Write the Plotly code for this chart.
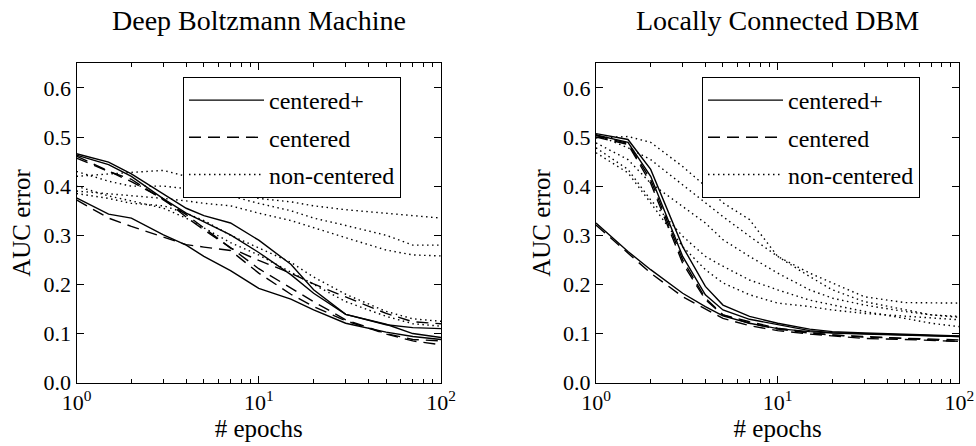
import plotly.graph_objects as go

# ---------------- data ----------------
epochs = [1, 1.5, 2, 3, 4, 5, 7, 10, 15, 20, 30, 50, 70, 100]

dbm_centered_plus = [
    [0.466, 0.449, 0.425, 0.383, 0.355, 0.340, 0.325, 0.290, 0.241, 0.189, 0.139, 0.118, 0.112, 0.110],
    [0.463, 0.444, 0.420, 0.374, 0.345, 0.327, 0.301, 0.265, 0.220, 0.182, 0.139, 0.119, 0.100, 0.092],
    [0.376, 0.343, 0.335, 0.301, 0.280, 0.257, 0.228, 0.192, 0.170, 0.148, 0.121, 0.103, 0.094, 0.088],
]
dbm_centered = [
    [0.461, 0.430, 0.409, 0.374, 0.337, 0.311, 0.275, 0.232, 0.192, 0.165, 0.128, 0.100, 0.088, 0.085],
    [0.457, 0.430, 0.414, 0.372, 0.342, 0.315, 0.274, 0.249, 0.223, 0.201, 0.174, 0.141, 0.124, 0.120],
    [0.372, 0.335, 0.318, 0.296, 0.281, 0.276, 0.269, 0.223, 0.180, 0.155, 0.126, 0.099, 0.085, 0.077],
]
dbm_non_centered = [
    [0.420, 0.425, 0.428, 0.432, 0.420, 0.405, 0.390, 0.375, 0.368, 0.360, 0.352, 0.345, 0.340, 0.335],
    [0.430, 0.410, 0.400, 0.400, 0.395, 0.390, 0.380, 0.365, 0.350, 0.335, 0.320, 0.300, 0.280, 0.280],
    [0.390, 0.385, 0.380, 0.375, 0.370, 0.365, 0.360, 0.345, 0.330, 0.315, 0.295, 0.270, 0.260, 0.258],
    [0.385, 0.375, 0.365, 0.360, 0.345, 0.330, 0.300, 0.275, 0.245, 0.215, 0.180, 0.145, 0.130, 0.125],
    [0.400, 0.380, 0.370, 0.355, 0.335, 0.315, 0.285, 0.260, 0.225, 0.200, 0.165, 0.135, 0.120, 0.115],
]

lcdbm_centered_plus = [
    [0.507, 0.495, 0.434, 0.277, 0.196, 0.158, 0.135, 0.121, 0.109, 0.104, 0.101, 0.099, 0.097, 0.095],
    [0.504, 0.489, 0.420, 0.257, 0.179, 0.148, 0.129, 0.118, 0.106, 0.102, 0.100, 0.097, 0.095, 0.094],
    [0.325, 0.267, 0.230, 0.182, 0.155, 0.136, 0.121, 0.110, 0.104, 0.101, 0.099, 0.097, 0.095, 0.094],
]
lcdbm_centered = [
    [0.503, 0.487, 0.413, 0.250, 0.172, 0.138, 0.124, 0.111, 0.102, 0.097, 0.094, 0.090, 0.087, 0.084],
    [0.321, 0.264, 0.223, 0.175, 0.150, 0.131, 0.116, 0.106, 0.099, 0.095, 0.090, 0.088, 0.086, 0.084],
    [0.500, 0.485, 0.406, 0.243, 0.169, 0.138, 0.121, 0.109, 0.101, 0.097, 0.093, 0.090, 0.088, 0.087],
]
lcdbm_non_centered = [
    [0.498, 0.501, 0.489, 0.440, 0.400, 0.366, 0.332, 0.257, 0.223, 0.203, 0.175, 0.163, 0.162, 0.162],
    [0.505, 0.478, 0.454, 0.403, 0.366, 0.338, 0.298, 0.257, 0.216, 0.189, 0.165, 0.148, 0.138, 0.135],
    [0.488, 0.454, 0.406, 0.359, 0.325, 0.291, 0.257, 0.223, 0.189, 0.172, 0.158, 0.145, 0.138, 0.133],
    [0.478, 0.434, 0.372, 0.298, 0.257, 0.237, 0.209, 0.189, 0.168, 0.158, 0.145, 0.131, 0.121, 0.114],
    [0.468, 0.427, 0.366, 0.277, 0.230, 0.203, 0.179, 0.162, 0.155, 0.148, 0.141, 0.135, 0.131, 0.128],
]

panel_titles = ["Deep Boltzmann Machine", "Locally Connected DBM"]
method_names = ["centered+", "centered", "non-centered"]
x_tick_vals = [1, 10, 100]
x_tick_text = ["10<sup>0</sup>", "10<sup>1</sup>", "10<sup>2</sup>"]
x_minor_vals = [2, 3, 4, 5, 6, 7, 8, 9, 20, 30, 40, 50, 60, 70, 80, 90]
y_tick_vals = [0.0, 0.1, 0.2, 0.3, 0.4, 0.5, 0.6]

# ---------------- styling ----------------
W, H = 976, 446
SERIF = "Liberation Serif"
LW = 1.4
dash_styles = ["solid", "12px,7px", "1.5px,3.5px"]

fig = go.Figure()

panels = [
    (dbm_centered_plus, dbm_centered, dbm_non_centered, "x", "y", "legend"),
    (lcdbm_centered_plus, lcdbm_centered, lcdbm_non_centered, "x2", "y2", "legend2"),
]
for cp, c, nc, xa, ya, lg in panels:
    for m, group in enumerate([cp, c, nc]):
        for k, vals in enumerate(group):
            fig.add_trace(go.Scatter(
                x=epochs, y=vals, mode="lines",
                line=dict(color="black", width=LW, dash=dash_styles[m]),
                name=method_names[m], legendgroup=lg + method_names[m],
                showlegend=(k == 0), legend=lg,
                xaxis=xa, yaxis=ya, hoverinfo="skip",
            ))

x_dom = [[76.5 / W, 441 / W], [596 / W, 959.3 / W]]
y_dom = [(H - 382.7) / H, (H - 63.3) / H]

axis_font = dict(family=SERIF, size=22, color="black")
title_font = dict(family=SERIF, size=25, color="black")

def xaxis(i):
    return dict(
        type="log", range=[0, 2], domain=x_dom[i], anchor="y" if i == 0 else "y2",
        automargin=False,
        showline=True, linecolor="black", linewidth=1.3, mirror="ticks",
        ticks="inside", ticklen=7, tickwidth=1, tickcolor="black",
        tickvals=x_tick_vals, ticktext=x_tick_text, tickfont=axis_font,
        minor=dict(ticks="inside", ticklen=3.5, tickwidth=1, tickcolor="black",
                   tickvals=x_minor_vals, showgrid=False),
        showgrid=False, zeroline=False,
        title=dict(text="# epochs", font=title_font, standoff=4),
    )

def yaxis(i):
    return dict(
        range=[0, 0.65], domain=y_dom, anchor="x" if i == 0 else "x2",
        automargin=False,
        showline=True, linecolor="black", linewidth=1.3, mirror="ticks",
        ticks="inside", ticklen=7, tickwidth=1, tickcolor="black",
        tickvals=y_tick_vals, tickformat=".1f", tickfont=axis_font,
        showgrid=False, zeroline=False,
        title=dict(text="AUC error", font=title_font, standoff=5),
    )

def legend(x0):
    return dict(
        x=x0 / W, y=1 - 77 / H, xanchor="left", yanchor="top",
        bgcolor="white", bordercolor="black", borderwidth=1,
        font=dict(family=SERIF, size=24, color="black"),
        traceorder="grouped", tracegroupgap=3, itemwidth=75,
    )

annotations = []
for i, t in enumerate(panel_titles):
    cx = (x_dom[i][0] + x_dom[i][1]) / 2
    annotations.append(dict(
        text=t, x=cx, y=1 - 20 / H, xref="paper", yref="paper",
        xanchor="center", yanchor="middle", showarrow=False,
        font=dict(family=SERIF, size=28, color="black"),
    ))

fig.update_layout(
    width=W, height=H, margin=dict(l=0, r=0, t=0, b=0),
    paper_bgcolor="white", plot_bgcolor="white",
    font=dict(family=SERIF, color="black"),
    xaxis=xaxis(0), xaxis2=xaxis(1), yaxis=yaxis(0), yaxis2=yaxis(1),
    legend=legend(183), legend2=legend(702),
    annotations=annotations, showlegend=True,
)

fig.write_html("out.html", config={"displayModeBar": False},
               post_script="document.body.style.margin='0px';")
